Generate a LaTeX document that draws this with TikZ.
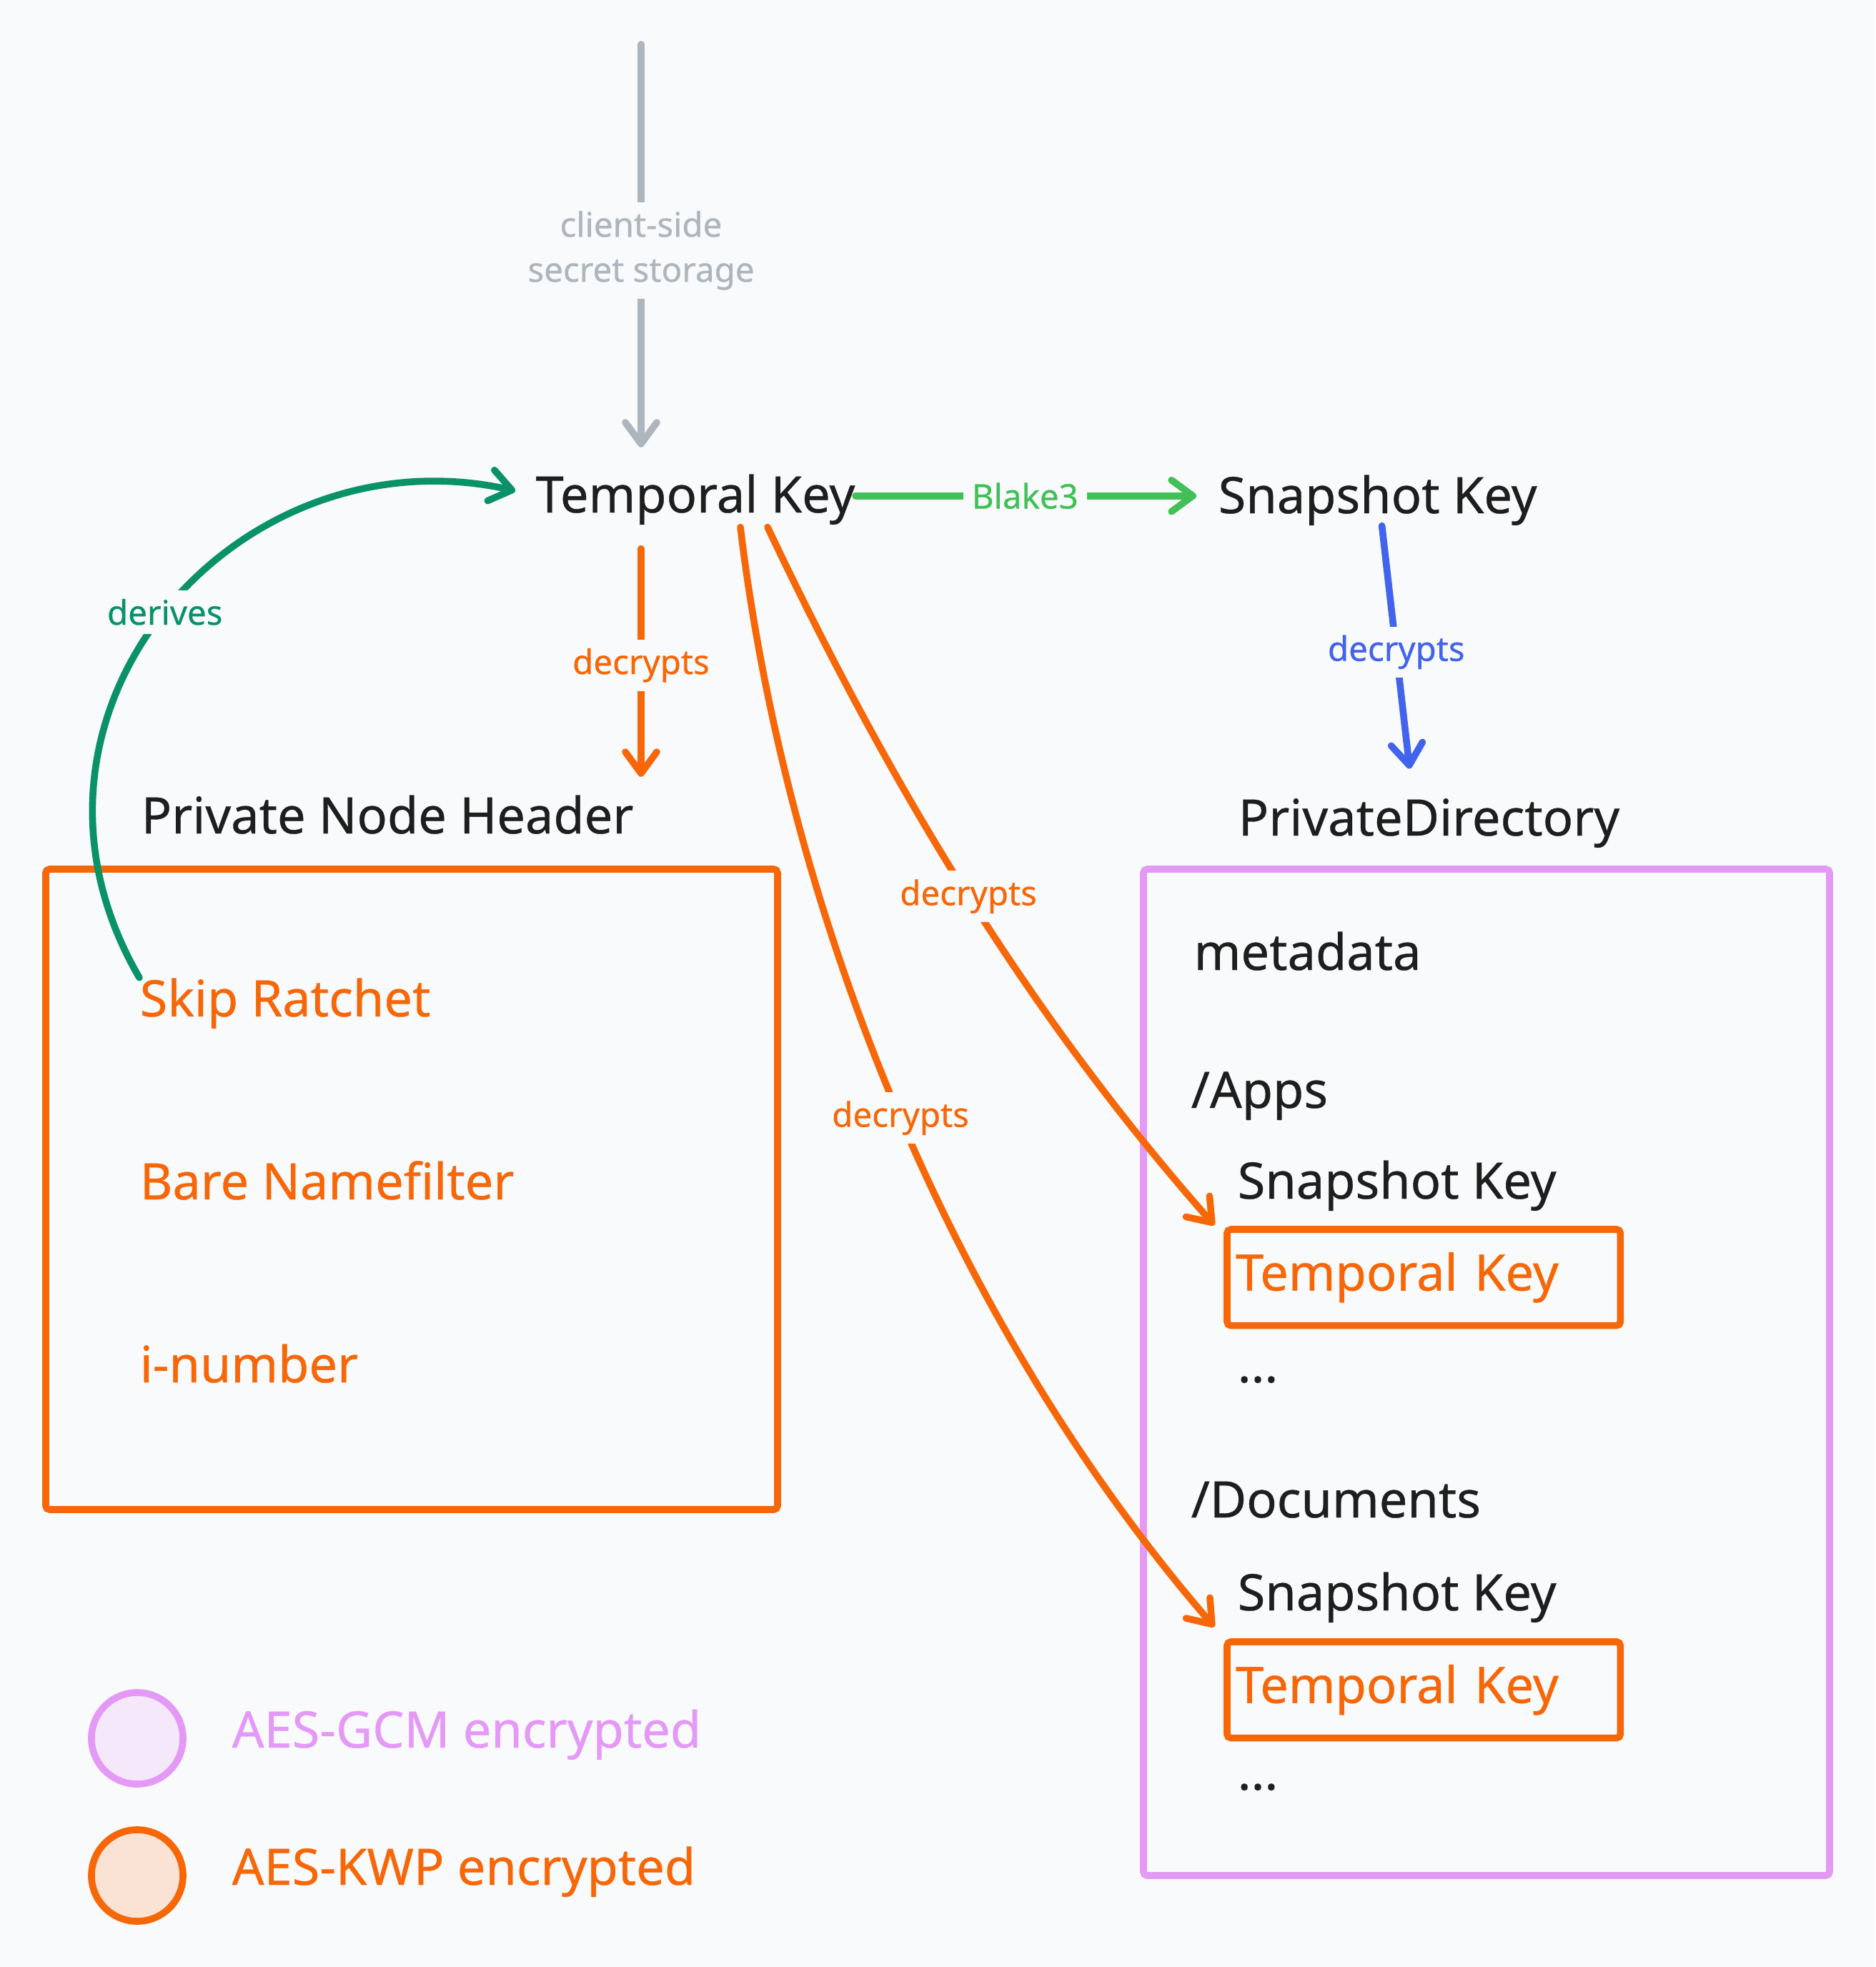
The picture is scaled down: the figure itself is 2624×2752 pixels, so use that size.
\documentclass[tikz,border=0pt]{standalone}
\usepackage{fontspec}
\setmainfont{Noto Sans}[FakeBold=0.5]
\usetikzlibrary{calc, arrows.meta, positioning}
\definecolor{InkBlack}{HTML}{1E1E1E}
\definecolor{PaperBg}{HTML}{F8FAFC}
\definecolor{KwpOrange}{HTML}{F76707}
\definecolor{KwpFill}{HTML}{FAE3D4}
\definecolor{GcmPink}{HTML}{E599F7}
\definecolor{GcmFill}{HTML}{F5E8FA}
\definecolor{StorageGrey}{HTML}{ADB5BD}
\definecolor{BlakeGreen}{HTML}{40C057}
\definecolor{DeriveTeal}{HTML}{099268}
\definecolor{SnapBlue}{HTML}{4263EB}

\tikzset{
  keytext/.style={inner sep=0pt, anchor=base west, text=InkBlack, font=\fontsize{20}{24}\selectfont},
  enctext/.style={keytext, text=KwpOrange},
  edgelabel/.style={fill=PaperBg, inner sep=0.12cm, font=\fontsize{13.5}{17.9}\selectfont},
  link/.style={line width=2.73pt, line cap=round, -{Straight Barb[length=0.3cm, width=0.44cm, round]}},
  frame/.style={line width=2.73pt, rounded corners=1.5pt},
  keybox/.style={draw=KwpOrange, line width=2.73pt, rounded corners=1.5pt, anchor=north west, outer sep=0pt,
    minimum width=5.5cm, minimum height=1.345cm, text width=5.26cm, inner xsep=0.12cm, inner ysep=0pt,
    align=left, text=KwpOrange, font=\fontsize{20}{24}\selectfont},
  legdot/.style={circle, line width=2.73pt, minimum size=1.28cm, inner sep=0pt, outer sep=0pt},
}

\begin{document}
\begin{tikzpicture}[x=0.01cm, y=-0.01cm]
% canvas
\useasboundingbox (0,0) rectangle (2624,2752);
\fill[PaperBg] (0,0) rectangle (2624,2752);

% keys
\coordinate (store) at (897,62);
\node[keytext] (tk) at (749,717) {Temporal Key};
\node[keytext] (sk) at (1704,718) {Snapshot Key};
\node[keytext] (pnh) at (197,1166) {Private Node Header};
\node[keytext] (pd) at (1732,1169) {PrivateDirectory};

% private node header
\draw[frame, KwpOrange] (64,1216) rectangle (1088,2112);
\node[enctext] (skip) at (195,1422) {Skip Ratchet};
\node[enctext] (bare) at (195,1678) {Bare Namefilter};
\node[enctext] (inum) at (195,1934) {i-number};

% private directory
\draw[frame, GcmPink] (1600,1216) rectangle (2560,2624);
\node[keytext] (meta) at (1670,1357) {metadata};
\node[keytext] (apps) at (1666,1550) {/Apps};
\node[keytext] (appsk) at (1731,1677) {Snapshot Key};
\node[keybox] (apptk) at (1717,1720) {Temporal Key};
\node[keytext] (appdots) at (1731,1934) {...};
\node[keytext] (docs) at (1666,2123) {/Documents};
\node[keytext] (docsk) at (1731,2253) {Snapshot Key};
\node[keybox] (doctk) at (1717,2297) {Temporal Key};
\node[keytext] (docdots) at (1731,2504) {...};

% legend
\node[legdot, draw=GcmPink, fill=GcmFill] (gcmdot) at (192,2432) {};
\node[keytext, text=GcmPink] (gcm) at (324,2445) {AES-GCM encrypted};
\node[legdot, draw=KwpOrange, fill=KwpFill] (kwpdot) at (192,2624) {};
\node[keytext, text=KwpOrange] (kwp) at (324,2637) {AES-KWP encrypted};

% connectors
\draw[link, StorageGrey, shorten >=0.37cm] (store) -- node[edgelabel, align=center, pos=0.48] {client-side\\secret storage} (store |- tk.north);
\draw[link, BlakeGreen, shorten >=0.3cm] ($(tk.east)+(0,-5)$) -- node[edgelabel, pos=0.468] {Blake3} ($(tk.east -| sk.west)+(0,-5)$);
\draw[link, KwpOrange, shorten <=0.33cm, shorten >=0.25cm] (store |- tk.south) -- node[edgelabel, pos=0.52] {decrypts} (store |- pnh.north);
\draw[link, SnapBlue] ($(sk.south)+(6,0)$) -- node[edgelabel, pos=0.52] {decrypts} ($(pd.north)+(-27,-41)$);
\draw[link, KwpOrange] ($(tk.south west)+(325,3)$) .. controls +(152,320) and +(-285,-323) .. node[edgelabel, pos=0.53] {decrypts} ($(apptk.north west)+(-18,-6)$);
\draw[link, KwpOrange] ($(tk.south west)+(287,3)$) .. controls +(60,500) and +(-391,-453) .. node[edgelabel, pos=0.525] {decrypts} ($(doctk.north west)+(-18,-21)$);
\draw[link, DeriveTeal] (skip.north west) .. controls +(-215,-369) and +(-391,-87) .. node[edgelabel, pos=0.5] {derives} ($(tk.west)+(-28,-12)$);
\end{tikzpicture}
\end{document}
